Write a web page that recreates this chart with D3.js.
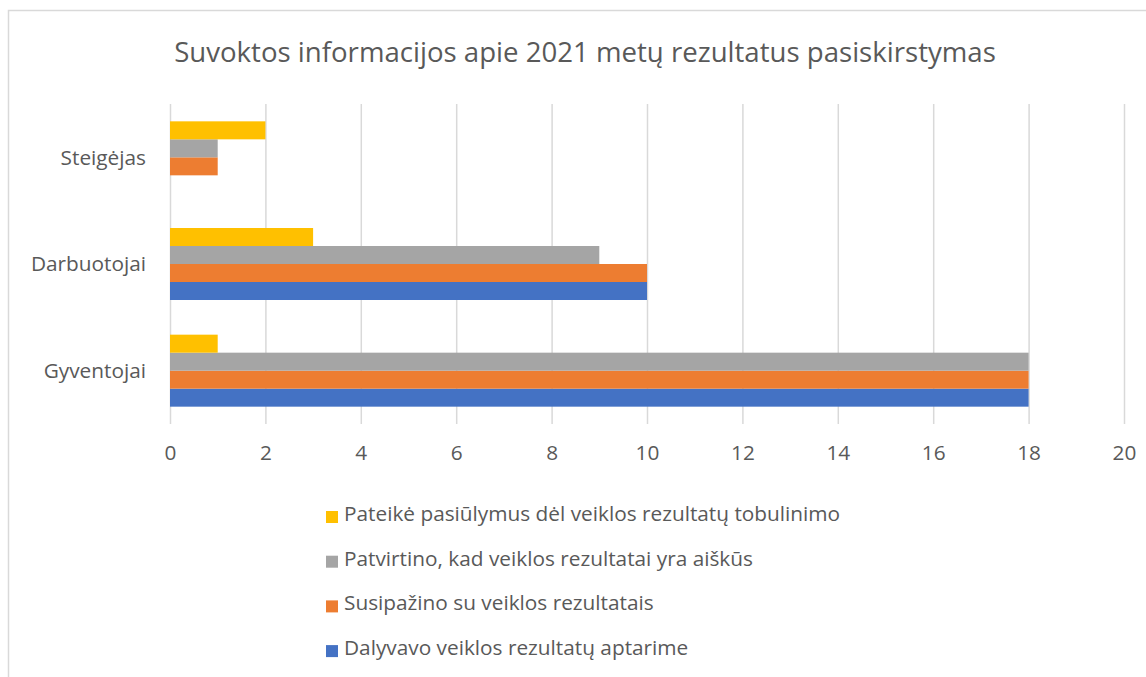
<!DOCTYPE html>
<html>
<head>
<meta charset="utf-8">
<script src="https://cdn.jsdelivr.net/npm/d3@7"></script>
<style>
  body { margin: 0; background: #fff; }
  text { font-family: "Open Sans", Lato, sans-serif; fill: #595959; }
</style>
</head>
<body>
<div id="chart"></div>
<script>
const WIDTH = 1146;
const HEIGHT = 677;

const categories = ['Steigėjas', 'Darbuotojai', 'Gyventojai'];
const seriesNames = [
    'Dalyvavo veiklos rezultatų aptarime',
    'Susipažino su veiklos rezultatais',
    'Patvirtino, kad veiklos rezultatai yra aiškūs',
    'Pateikė pasiūlymus dėl veiklos rezultatų tobulinimo'
];
const dalyvavo   = [0, 10, 18];
const susipazino = [1, 10, 18];
const patvirtino = [1, 9, 18];
const pateike    = [2, 3, 1];
const colors = ['#4472c4', '#ed7d31', '#a5a5a5', '#ffc000'];
const xTicks = [0, 2, 4, 6, 8, 10, 12, 14, 16, 18, 20];

const seriesValues = [dalyvavo, susipazino, patvirtino, pateike];

const plot = {left: 170, right: 1124, top: 104, bottom: 424};
const FONT = '20.8px';

const svg = d3.select('#chart')
    .append('svg')
        .attr('width', WIDTH)
        .attr('height', HEIGHT);

// chart frame (only left and top edge are inside the picture)
svg.append('rect')
    .attr('x', 8.5)
    .attr('y', 10.5)
    .attr('width', WIDTH + 10)
    .attr('height', HEIGHT + 10)
    .attr('fill', 'none')
    .attr('stroke', '#d9d9d9')
    .attr('stroke-width', 1.5);

svg.append('text')
    .attr('x', 585)
    .attr('y', 62)
    .attr('text-anchor', 'middle')
    .style('font-size', '27.6px')
    .text('Suvoktos informacijos apie 2021 metų rezultatus pasiskirstymas');

const x = d3.scaleLinear()
    .domain([0, 20])
    .range([plot.left, plot.right]);

const y = d3.scaleBand()
    .domain(categories)
    .range([plot.top, plot.bottom])
    .paddingInner(0.325)
    .paddingOuter(0.1625);

// top of group = last series, bottom = first series
const yInner = d3.scaleBand()
    .domain(d3.range(seriesNames.length).reverse())
    .range([0, y.bandwidth()]);

// gridlines
const grid = svg.append('g')
    .attr('transform', `translate(0,${plot.bottom})`)
    .call(d3.axisTop(x).tickValues(xTicks).tickSize(plot.bottom - plot.top).tickFormat(''));
grid.select('.domain').remove();
grid.selectAll('line').attr('stroke', '#d9d9d9').attr('stroke-width', 1.5);

// bars
const rows = [];
categories.forEach((c, ci) => {
    seriesValues.forEach((vals, si) => {
        rows.push({cat: c, s: si, value: vals[ci]});
    });
});

svg.append('g')
    .selectAll('rect')
    .data(rows)
    .join('rect')
        .attr('x', x(0))
        .attr('y', d => y(d.cat) + yInner(d.s))
        .attr('width', d => x(d.value) - x(0))
        .attr('height', yInner.bandwidth())
        .attr('fill', d => colors[d.s]);

// x axis labels
const xAxis = svg.append('g')
    .attr('transform', `translate(0,${plot.bottom})`)
    .call(d3.axisBottom(x).tickValues(xTicks).tickSize(0).tickPadding(21));
xAxis.select('.domain').remove();
xAxis.selectAll('text')
    .attr('fill', '#595959')
    .style('font-size', FONT)
    .style('font-family', '"Open Sans", sans-serif');

// category labels
const yAxis = svg.append('g')
    .attr('transform', `translate(${plot.left},0)`)
    .call(d3.axisLeft(y).tickSize(0).tickPadding(24));
yAxis.select('.domain').remove();
yAxis.selectAll('text')
    .attr('fill', '#595959')
    .attr('dy', '0.35em')
    .style('font-size', FONT)
    .style('font-family', '"Open Sans", sans-serif');

// legend
const legendOrder = [3, 2, 1, 0];
const legend = svg.append('g')
    .selectAll('g')
    .data(legendOrder)
    .join('g')
        .attr('transform', (d, i) => `translate(326,${521 + i * 44.7})`);

legend.append('rect')
    .attr('x', 0)
    .attr('y', -10)
    .attr('width', 12)
    .attr('height', 12)
    .attr('fill', d => colors[d]);

legend.append('text')
    .attr('x', 18)
    .attr('y', 0)
    .style('font-size', FONT)
    .text(d => seriesNames[d]);
</script>
</body>
</html>
